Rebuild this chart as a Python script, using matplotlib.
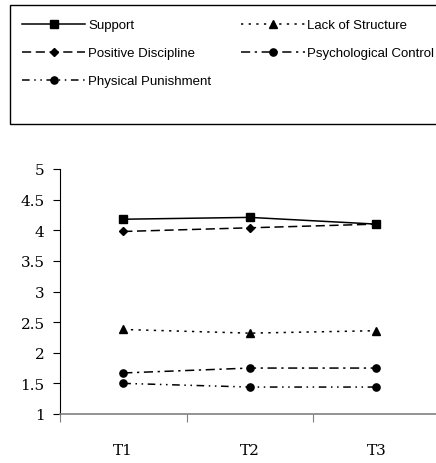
import numpy as np
import matplotlib
matplotlib.use('Agg')
import matplotlib.pyplot as plt
from matplotlib.patches import Rectangle

times = ['T1', 'T2', 'T3']
support = [4.18, 4.21, 4.10]
positive_discipline = [3.98, 4.04, 4.10]
physical_punishment = [1.50, 1.44, 1.44]
lack_of_structure = [2.38, 2.32, 2.36]
psych_control = [1.67, 1.75, 1.75]

# order chosen so the 2-column legend fills row-wise like the original
series = [
  ('Support', support, '-', 's', 9.5),
  ('Positive Discipline', positive_discipline, (0, (6, 3)), 'D', 6),
  ('Physical Punishment', physical_punishment, (0, (5, 3, 1, 3, 1, 3)), 'o', 8),
  ('Lack of Structure', lack_of_structure, (0, (1.5, 3.5)), '^', 8.5),
  ('Psychological Control', psych_control, (0, (6, 3, 1.5, 3)), 'o', 8),
]

fig = plt.figure(figsize=(4.36, 4.64), dpi=100)
ax = fig.add_axes([60/436, 49/464, 379.5/436, 245/464])

x = np.arange(1, len(times) + 1)
for label, vals, ls, mk, ms in series:
  ax.plot(x, vals, ls=ls, marker=mk, ms=ms, color='black', lw=1.1, label=label)

ax.set_xlim(0.5, 3.5)
ax.set_ylim(1, 5)
ax.set_yticks(np.arange(1, 5.01, 0.5))
ax.set_yticklabels(['1', '1.5', '2', '2.5', '3', '3.5', '4', '4.5', '5'],
                   fontfamily='DejaVu Serif', fontsize=11)
ax.set_xticks([0.5, 1.5, 2.5, 3.5])
ax.set_xticklabels([])
ax.set_xticks(x, minor=True)
ax.set_xticklabels(times, minor=True, fontfamily='DejaVu Serif', fontsize=11)
ax.tick_params(axis='x', which='major', direction='out', length=6, color='#808080')
ax.tick_params(axis='x', which='minor', length=0, pad=21)
ax.tick_params(axis='y', direction='out', length=5, pad=6)

ax.spines['top'].set_visible(False)
ax.spines['right'].set_visible(False)
ax.spines['bottom'].set_color('#808080')
ax.spines['bottom'].set_linewidth(1.2)

# legend box drawn separately; it runs off the right edge like the original
fig.patches.append(Rectangle((10/436, 1 - 125/464), 440/436, 119/464,
                             transform=fig.transFigure, fill=False,
                             edgecolor='black', lw=1.0))

handles, labels = ax.get_legend_handles_labels()
for h in handles:
  h.set_markersize(h.get_markersize() * 0.65)
leg = fig.legend(handles, labels, ncol=2, loc='upper left',
                 bbox_to_anchor=(22/436, 1 - 20/464),
                 prop={'family': 'Liberation Sans', 'size': 9.5},
                 frameon=False, handlelength=4.8, handletextpad=0.2,
                 labelspacing=1.2, columnspacing=2.3, borderpad=0, borderaxespad=0)

fig.savefig('out.png', dpi=100)
